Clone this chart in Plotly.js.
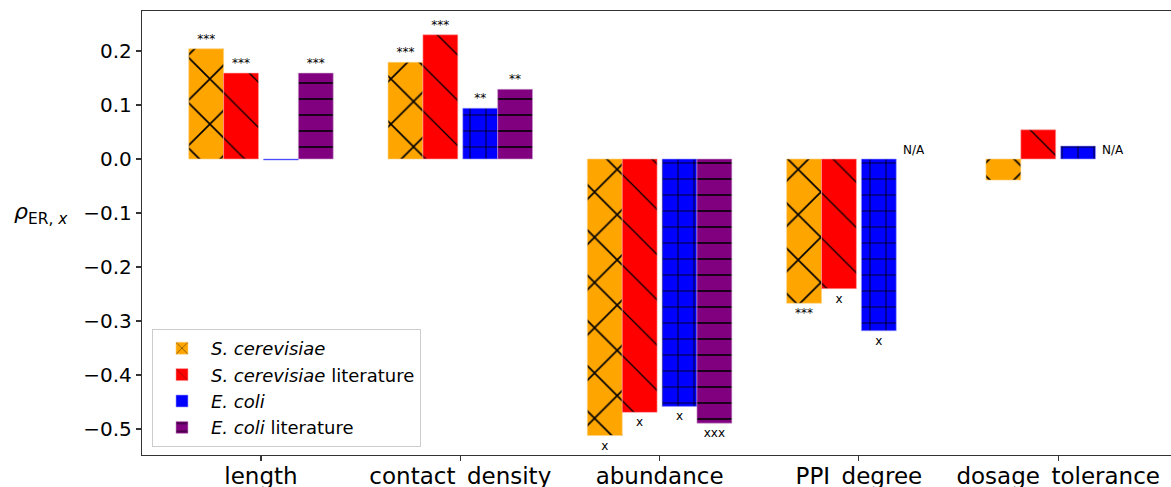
<!DOCTYPE html>
<html>
<head>
<meta charset="utf-8">
<script src="https://cdn.plot.ly/plotly-3.0.1.min.js"></script>
<style>html,body{margin:0;padding:0;background:#fff;}#chart{width:1171px;height:487px;}</style>
</head>
<body>
<div id="chart"></div>
<script>
const categories = ['length', 'contact_density', 'abundance', 'PPI_degree', 'dosage_tolerance'];
const seriesNames = ['<i>S. cerevisiae</i>', '<i>S. cerevisiae</i> literature', '<i>E. coli</i>', '<i>E. coli</i> literature'];
const scerevisiae    = [0.204, 0.179, -0.512, -0.267, -0.039];
const scerevisiaeLit = [0.159, 0.230, -0.469, -0.240, 0.054];
const ecoli          = [-0.002, 0.094, -0.458, -0.318, 0.024];
const ecoliLit       = [0.159, 0.129, -0.489, null, null];
const sigSc    = ['***', '***', 'x', '***', ''];
const sigScLit = ['***', '***', 'x', 'x', ''];
const sigEc    = ['', '**', 'x', 'x', ''];
const sigEcLit = ['***', '**', 'xxx', '', ''];
const naCategories = ['PPI_degree', 'dosage_tolerance'];
const yTickVals = [0.2, 0.1, 0.0, -0.1, -0.2, -0.3, -0.4, -0.5];
const yTickText = ['0.2', '0.1', '0.0', '\u22120.1', '\u22120.2', '\u22120.3', '\u22120.4', '\u22120.5'];

const colors = ['#FFA500', '#FF0000', '#0000FF', '#800080'];
const shapes = ['x', '\\', ['', '+', '+', '+', '+'], '-'];
const psize = [32, 32, 16, 16];
const psol = [0.1, 0.04, 0.1, 0.1];
const W = 0.175;
const offsets = [-0.275 - W/2, -0.1 - W/2, 0.1 - W/2, 0.275 - W/2];
const values = [scerevisiae, scerevisiaeLit, ecoli, ecoliLit];
const sigs = [sigSc, sigScLit, sigEc, sigEcLit];
const edgeColors = ['#ffd27f', '#ff9f9f', '#9f9fff', '#c9a0c9'];

const traces = values.map((v, i) => ({
  type: 'bar',
  name: seriesNames[i],
  x: categories,
  y: v,
  width: W,
  offset: offsets[i],
  text: sigs[i],
  textposition: 'outside',
  textfont: {family: 'DejaVu Sans', size: 12, color: '#000'},
  cliponaxis: false,
  marker: {
    color: colors[i],
    line: {width: 0.6, color: edgeColors[i]},
    pattern: {shape: shapes[i], fgcolor: '#000', bgcolor: colors[i], size: psize[i], solidity: psol[i], fillmode: 'replace'}
  },
  hoverinfo: 'x+y+name'
}));

const annotations = naCategories.map(c => ({
  x: categories.indexOf(c) + 0.275, y: 0, xref: 'x', yref: 'y',
  text: 'N/A', showarrow: false, yanchor: 'bottom', yshift: 0,
  font: {family: 'DejaVu Sans', size: 12, color: '#000'}
}));
annotations.push({
  xref: 'paper', yref: 'y', x: -0.07, y: -0.1, xanchor: 'right',
  text: '<i>\u03C1</i><sub>ER, <i>x</i></sub>', showarrow: false,
  font: {family: 'DejaVu Sans', size: 22, color: '#000'}
});

const layout = {
  width: 1171, height: 487,
  margin: {l: 142, r: 0, t: 11, b: 32},
  paper_bgcolor: '#fff', plot_bgcolor: '#fff',
  barmode: 'overlay',
  showlegend: true,
  font: {family: 'DejaVu Sans', color: '#000'},
  xaxis: {
    type: 'category', range: [-0.597, 4.566],
    showline: true, mirror: true, linecolor: '#333', linewidth: 1.2,
    ticks: 'outside', ticklen: 5, tickcolor: '#333', tickwidth: 1.2,
    tickfont: {family: 'DejaVu Sans', size: 23, color: '#000'},
    ticklabelstandoff: -5,
    showgrid: false, zeroline: false
  },
  yaxis: {
    range: [-0.548, 0.274],
    tickvals: yTickVals, ticktext: yTickText,
    showline: true, linecolor: '#333', linewidth: 1.2,
    ticks: 'outside', ticklen: 5, tickcolor: '#333', tickwidth: 1.2,
    tickfont: {family: 'DejaVu Sans', size: 20, color: '#000'},
    showgrid: false, zeroline: false
  },
  legend: {
    x: 0.0097, y: 0.018, xanchor: 'left', yanchor: 'bottom',
    bgcolor: '#fff', bordercolor: '#ccc', borderwidth: 1,
    font: {family: 'DejaVu Sans', size: 18, color: '#000'},
    itemwidth: 48,
    tracegroupgap: 0
  },
  annotations: annotations
};

Plotly.newPlot('chart', traces, layout, {displayModeBar: false, staticPlot: true});
</script>
</body>
</html>
